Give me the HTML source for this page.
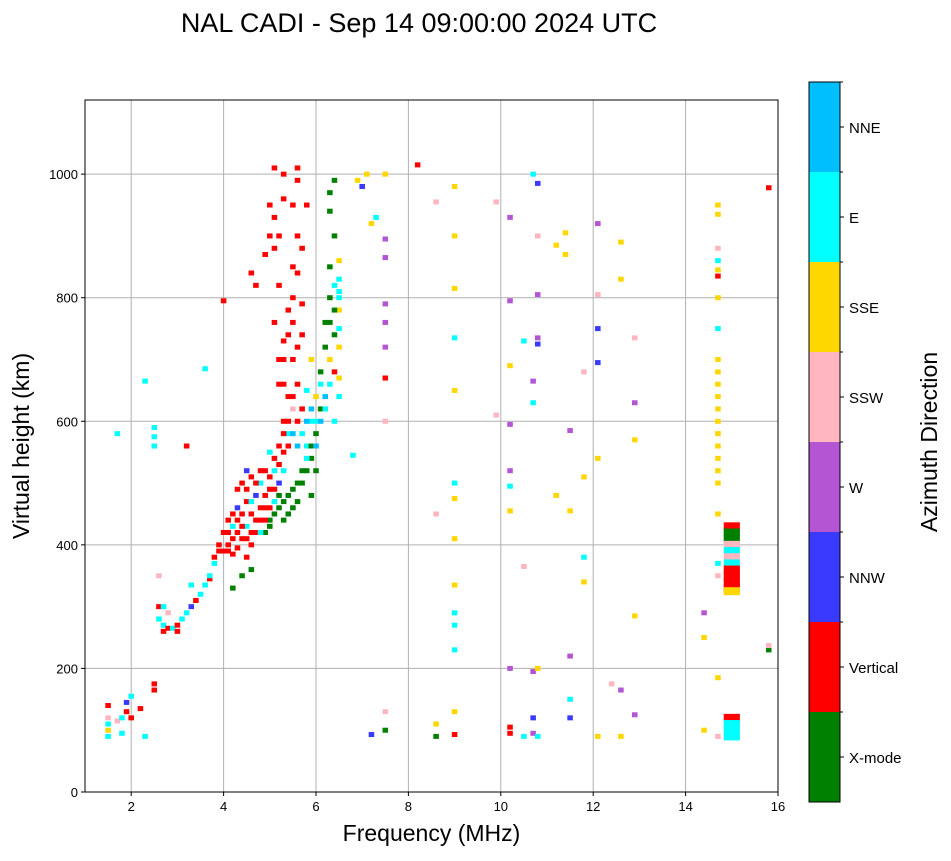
<!DOCTYPE html>
<html><head><meta charset="utf-8"><style>
body{margin:0;background:#fff;}
svg{font-family:"Liberation Sans","DejaVu Sans",sans-serif;}
</style></head><body>
<svg id="c" width="951" height="856" xmlns="http://www.w3.org/2000/svg"></svg>
<script>
const dirNames=["X-mode","Vertical","NNW","W","SSW","SSE","E","NNE"];
const dirColors=["#008000","#ff0000","#3a3aff","#b455d4","#ffb6c1","#ffd700","#00ffff","#00bfff"];
const xTicks=[2,4,6,8,10,12,14,16];
const yTicks=[0,200,400,600,800,1000];
const freqs=[1.5,1.5,1.5,1.5,1.5,1.7,1.8,1.9,1.9,2.0,2.0,1.8,2.2,2.3,2.5,2.5,2.3,2.5,2.5,2.5,3.2,3.6,4.0,1.7,
2.6,2.6,2.6,2.7,2.7,2.8,2.9,3.0,3.1,3.2,3.3,3.4,3.5,3.6,3.7,3.7,3.8,3.9,2.7,2.8,3.0,3.3,
4.0,4.1,4.1,4.2,4.2,4.3,4.3,4.3,4.4,4.4,4.5,4.5,4.6,4.6,4.7,4.7,4.8,4.8,4.9,4.9,5.0,5.0,5.1,5.1,5.2,5.2,5.3,5.3,5.4,5.4,5.5,5.5,4.5,4.6,4.2,4.4,
5.1,5.2,5.1,5.0,5.1,5.0,4.9,4.7,4.6,5.3,5.3,5.4,5.5,5.6,5.6,5.5,5.6,5.7,5.6,5.2,5.3,5.7,5.8,
4.9,5.0,5.1,5.2,5.3,5.4,5.5,5.6,5.7,5.8,5.9,6.0,6.1,6.1,6.2,6.2,6.3,6.3,6.4,6.3,6.4,6.3,5.9,
5.8,5.9,6.0,6.1,6.2,6.3,6.5,6.5,6.5,6.5,6.5,6.5,6.4,6.4,6.5,5.8,6.4,5.9,
6.8,6.9,7.0,7.1,7.2,7.3,7.5,7.5,7.5,7.5,7.5,7.5,7.5,7.5,7.5,7.2,7.5,8.2,8.6,8.6,8.6,8.6,
9.0,9.0,9.0,9.0,9.0,9.0,9.0,9.0,9.0,9.0,9.0,9.0,9.0,9.0,9.9,9.9,
10.2,10.2,10.2,10.2,10.2,10.2,10.2,10.2,10.2,10.2,10.5,10.5,10.5,10.7,10.7,10.7,10.7,10.7,10.7,
10.8,10.8,10.8,10.8,10.8,10.8,10.8,11.2,11.2,11.4,11.4,11.5,11.5,11.5,11.5,11.5,11.8,11.8,11.8,11.8,
12.1,12.1,12.1,12.1,12.1,12.1,12.4,12.6,12.6,12.6,12.6,12.9,12.9,12.9,12.9,12.9,
14.4,14.4,14.4,14.7,14.7,14.7,14.7,14.7,14.7,14.7,14.7,14.7,14.7,14.7,14.7,14.7,14.7,14.7,14.7,14.7,14.7,14.7,14.7,14.7,14.7,14.7,14.7,15.8,15.8,15.8,
4.1,4.2,4.3,4.3,4.4,4.4,4.5,4.5,4.6,4.6,4.7,4.7,4.8,4.8,4.9,4.9,5.0,5.0,5.1,5.1,5.2,5.2,5.3,5.3,5.4,5.4,5.5,5.5,5.6,5.6,5.7,5.7,5.8,5.8,5.9,5.9,6.0,6.0,5.7,5.6,5.5,5.4,5.3,
5.2,5.3,5.4,5.5,5.6,5.5,5.6,5.7,5.2,5.1,5.3,6.2,6.3,6.1,6.0,6.4,6.4,6.3,6.5,6.5,4.0,3.9,3.8,4.1,4.2,4.5,4.6,4.8,5.0];
const heights=[90,100,110,120,140,115,120,130,145,155,120,95,135,90,165,175,665,560,575,590,560,685,795,580,
280,300,350,260,270,265,265,270,280,290,300,310,320,335,345,350,380,390,300,290,260,335,
390,400,420,385,430,440,460,490,500,410,430,470,400,450,480,420,440,500,460,520,430,490,540,470,560,500,600,520,640,580,700,620,380,360,330,350,
760,820,880,950,1010,900,870,820,840,700,730,780,850,900,1010,950,990,740,660,660,1000,790,950,
420,440,450,460,470,480,490,470,500,520,540,580,620,680,720,760,800,850,900,940,990,970,480,
560,600,640,660,620,700,720,750,780,800,830,860,740,680,670,650,600,700,
545,990,980,1000,920,930,1000,895,865,790,760,720,670,600,130,93,100,1015,955,450,110,90,
980,900,815,735,650,500,475,410,335,290,270,230,130,93,955,610,
930,795,690,595,520,495,455,200,105,95,730,365,90,1000,665,630,195,120,95,
985,900,805,735,725,200,90,885,480,905,870,585,455,220,150,120,510,380,340,680,
920,805,750,695,540,90,175,890,830,165,90,735,630,570,285,125,
290,250,100,950,935,880,860,845,835,800,750,700,680,660,640,620,600,580,560,540,520,500,450,370,350,185,90,978,230,237,
390,410,395,420,430,450,410,490,420,470,440,500,460,420,440,480,460,510,490,520,530,480,550,580,560,600,580,640,600,560,620,580,600,540,560,620,600,520,520,500,460,450,440,
700,660,740,760,720,800,840,880,900,930,960,640,660,600,560,820,780,760,810,640,420,400,370,440,450,520,510,520,550];
const dirs=[6,5,6,4,1,4,6,1,2,6,1,6,1,6,1,1,6,6,6,6,1,6,1,6,
6,1,4,1,6,1,6,1,6,6,2,1,6,6,1,6,1,1,6,4,1,6,
1,1,1,1,6,1,2,1,1,1,6,1,1,1,2,1,1,6,1,1,0,1,1,6,1,2,1,6,1,6,1,4,1,0,0,0,
1,1,1,1,1,1,1,1,1,1,1,1,1,1,1,1,1,1,1,1,1,1,1,
0,0,0,0,0,0,0,0,0,0,0,0,0,0,0,0,0,0,0,0,0,0,0,
6,6,5,6,6,5,5,6,5,6,6,5,0,1,5,6,6,5,
6,5,2,5,5,6,5,3,3,3,3,3,1,4,4,2,0,1,4,4,5,0,
5,5,5,6,5,6,5,5,5,6,6,6,5,1,4,4,
3,3,5,3,3,6,5,3,1,1,6,4,6,6,3,6,3,2,3,
2,4,3,3,2,5,6,5,5,5,5,3,5,3,6,2,5,6,5,4,
3,4,2,2,5,5,4,5,5,3,5,4,3,5,5,3,
3,5,5,5,5,4,6,5,1,5,6,5,5,5,5,5,5,5,5,5,5,5,5,6,4,5,4,1,0,4,
1,1,1,1,1,1,1,1,1,6,1,1,1,6,1,1,1,1,1,6,1,0,1,1,1,1,7,1,1,7,1,6,7,6,0,7,6,0,0,0,0,0,0,
1,1,1,1,1,1,1,1,1,1,1,7,6,7,7,6,0,0,6,6,1,1,6,1,1,2,1,1,6];
const colFreq=15.0;
const colHeights=[430,420,410,400,390,380,370,360,350,340,330,325,120,110,100,90];
const colDirs=[1,0,0,4,6,4,6,1,1,1,1,5,1,6,6,6];

const NS="http://www.w3.org/2000/svg";
const svg=document.getElementById('c');
const L=85,R=778,T=100,B=792,xmin=1,xmax=16,ymin=0,ymax=1120;
const X=v=>L+(v-xmin)/(xmax-xmin)*(R-L);
const Y=v=>B-(v-ymin)/(ymax-ymin)*(B-T);
function el(t,a,p){const e=document.createElementNS(NS,t);for(const k in a)e.setAttribute(k,a[k]);(p||svg).appendChild(e);return e;}
function txt(s,a){const e=el('text',a);e.textContent=s;return e;}

const title=txt("NAL CADI - Sep 14 09:00:00 2024 UTC",{x:419,y:32,'text-anchor':'middle','font-size':27});



const plot=el('rect',{x:L,y:T,width:R-L,height:B-T,fill:'#fff'});


const grid=el('g',{stroke:'#b0b0b0','stroke-width':1});


xTicks.forEach(t=>el('line',{x1:X(t),x2:X(t),y1:T,y2:B},grid));
yTicks.forEach(t=>el('line',{x1:L,x2:R,y1:Y(t),y2:Y(t)},grid));

const marks=el('g',{});


const w=X(1.12)-X(1);
for(let i=0;i<freqs.length;i++){
  const r=el('rect',{x:X(freqs[i])-w/2,y:Y(heights[i])-2.5,width:w,height:5,fill:dirColors[dirs[i]]},marks);
  
  
}
const cw=X(1.35)-X(1);
for(let i=0;i<colHeights.length;i++){
  const r=el('rect',{x:X(colFreq)-cw/2,y:Y(colHeights[i])-4,width:cw,height:8,fill:dirColors[colDirs[i]]},marks);
  
  
}

const frame=el('rect',{x:L,y:T,width:R-L,height:B-T,fill:'none',stroke:'#000','stroke-width':1});


xTicks.forEach(t=>{el('line',{x1:X(t),x2:X(t),y1:B,y2:B+4,stroke:'#000'});
  const e=txt(t,{x:X(t),y:B+19,'text-anchor':'middle','font-size':13});
  
  });
yTicks.forEach(t=>{el('line',{x1:L-4,x2:L,y1:Y(t),y2:Y(t),stroke:'#000'});
  const e=txt(t,{x:L-7,y:Y(t)+5,'text-anchor':'end','font-size':13});
  
  });
const xt=txt("Frequency (MHz)",{x:(L+R)/2,y:841,'text-anchor':'middle','font-size':23});


const yt=txt("Virtual height (km)",{x:0,y:0,'text-anchor':'middle','font-size':23,transform:`translate(29,${(T+B)/2}) rotate(-90)`});



const cb=el('g',{});


const cbT=82,cbB=802,cbL=809,cbW=31,seg=(cbB-cbT)/dirNames.length;
dirNames.forEach((n,i)=>{
  const y0=cbB-(i+1)*seg;
  const r=el('rect',{x:cbL,y:y0,width:cbW,height:seg,fill:dirColors[i]},cb);
  
  
  el('line',{x1:cbL+cbW,x2:cbL+cbW+4,y1:y0+seg/2,y2:y0+seg/2,stroke:'#000'},cb);
  el('line',{x1:cbL+cbW,x2:cbL+cbW+3,y1:y0,y2:y0,stroke:'#000'},cb);
  const t=txt(n,{x:cbL+cbW+9,y:y0+seg/2+6,'font-size':15});
  
  
});
el('rect',{x:cbL,y:cbT,width:cbW,height:cbB-cbT,fill:'none',stroke:'#000'},cb);
const ct=txt("Azimuth Direction",{x:0,y:0,'text-anchor':'middle','font-size':23,transform:`translate(937,442) rotate(-90)`});


</script>
</body></html>
